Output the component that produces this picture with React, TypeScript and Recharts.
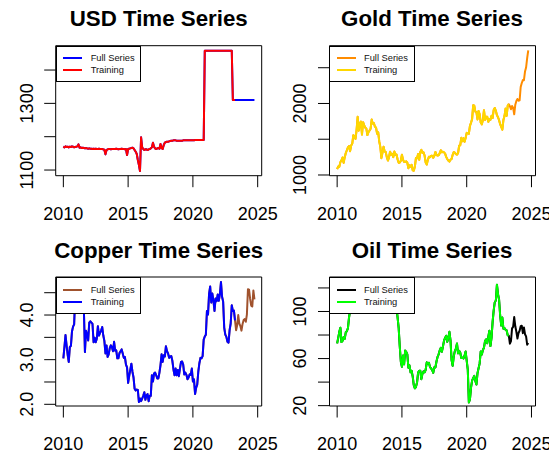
import React from 'react';
import { LineChart, Line, XAxis, YAxis, ReferenceArea } from 'recharts';

const FONT = '"Liberation Sans", Arial, Helvetica, sans-serif';

// month-end observations, Jan 2010 .. Oct 2024
const START_YEAR = 2010;
// last month of the training window (Apr 2023)
const TRAIN_END = 2023.25;

const xTicks = [2010, 2015, 2020, 2025];

const usdValues = [
  1170, 1168, 1171, 1169, 1170, 1168, 1170, 1169, 1171, 1170, 1168, 1169, // 2010
  1170, 1171, 1177, 1167, 1168, 1166, 1167, 1166, 1165, 1166, 1165, 1164, // 2011
  1165, 1164, 1164, 1163, 1164, 1163, 1164, 1163, 1163, 1164, 1163, 1163, // 2012
  1163, 1162, 1161, 1147, 1160, 1162, 1163, 1163, 1162, 1163, 1163, 1163, // 2013
  1163, 1164, 1163, 1162, 1163, 1163, 1164, 1163, 1163, 1162, 1163, 1145, // 2014
  1163, 1164, 1165, 1166, 1167, 1165, 1160, 1155, 1148, 1130, 1115, 1097, // 2015
  1198, 1168, 1163, 1160, 1162, 1162, 1160, 1162, 1163, 1165, 1168, 1182, // 2016
  1170, 1165, 1163, 1165, 1166, 1164, 1178, 1166, 1163, 1175, 1182, 1184, // 2017
  1185, 1185, 1186, 1187, 1188, 1188, 1189, 1189, 1189, 1188, 1188, 1188, // 2018
  1188, 1188, 1188, 1189, 1189, 1189, 1189, 1189, 1189, 1189, 1189, 1189, // 2019
  1189, 1189, 1190, 1190, 1190, 1190, 1190, 1190, 1190, 1190, 1190, 1458, // 2020
  1458, 1458, 1458, 1458, 1458, 1458, 1458, 1458, 1458, 1458, 1458, 1458, // 2021
  1458, 1458, 1458, 1458, 1458, 1458, 1458, 1458, 1458, 1458, 1458, 1458, // 2022
  1458, 1310, 1310, 1310, 1310, 1310, 1310, 1310, 1310, 1310, 1310, 1310, // 2023
  1310, 1310, 1310, 1310, 1310, 1310, 1310, 1310, 1310, 1310, // 2024
];

const goldValues = [
  1081, 1119, 1115, 1180, 1207, 1244, 1169, 1246, 1307, 1346, 1386, 1405,
  1333, 1411, 1439, 1556, 1536, 1505, 1628, 1813, 1620, 1722, 1746, 1565,
  1738, 1697, 1662, 1651, 1558, 1598, 1622, 1648, 1776, 1719, 1726, 1675,
  1664, 1578, 1598, 1469, 1393, 1235, 1313, 1396, 1328, 1323, 1250, 1202,
  1244, 1326, 1284, 1296, 1250, 1327, 1282, 1287, 1216, 1171, 1175, 1199,
  1284, 1213, 1183, 1182, 1190, 1172, 1095, 1135, 1115, 1142, 1065, 1060,
  1118, 1238, 1233, 1293, 1213, 1322, 1351, 1309, 1316, 1272, 1173, 1146,
  1212, 1254, 1249, 1268, 1268, 1242, 1269, 1322, 1280, 1271, 1275, 1303,
  1345, 1318, 1325, 1316, 1299, 1253, 1224, 1201, 1187, 1215, 1223, 1282,
  1321, 1313, 1292, 1284, 1305, 1409, 1414, 1520, 1472, 1513, 1464, 1517,
  1589, 1586, 1577, 1686, 1730, 1781, 1975, 1968, 1886, 1879, 1777, 1895,
  1848, 1734, 1708, 1769, 1906, 1771, 1814, 1814, 1743, 1784, 1774, 1829,
  1796, 1909, 1937, 1897, 1837, 1807, 1766, 1711, 1672, 1633, 1768, 1824,
  1928, 1827, 1969, 1990, 1962, 1919, 1965, 1940, 1849, 1983, 2036, 2063,
  2039, 2044, 2230, 2286, 2327, 2326, 2447, 2503, 2635, 2744,
];

const copperValues = [
  3.03, 3.28, 3.55, 3.32, 3.11, 2.95, 3.28, 3.31, 3.63, 3.74, 3.79, 4.44,
  4.49, 4.48, 4.27, 4.14, 4.12, 4.28, 4.47, 4.14, 3.17, 3.65, 3.56, 3.43,
  3.83, 3.86, 3.83, 3.80, 3.39, 3.49, 3.39, 3.47, 3.75, 3.54, 3.60, 3.65,
  3.73, 3.54, 3.42, 3.14, 3.32, 3.06, 3.12, 3.26, 3.32, 3.28, 3.19, 3.40,
  3.20, 3.21, 3.03, 3.03, 3.15, 3.19, 3.23, 3.14, 3.04, 3.06, 2.89, 2.83,
  2.48, 2.64, 2.77, 2.91, 2.73, 2.60, 2.35, 2.31, 2.33, 2.32, 2.05, 2.13,
  2.07, 2.13, 2.19, 2.27, 2.10, 2.20, 2.23, 2.07, 2.19, 2.19, 2.65, 2.51,
  2.69, 2.71, 2.65, 2.58, 2.58, 2.71, 2.88, 3.12, 2.95, 3.10, 3.07, 3.30,
  3.19, 3.14, 3.04, 3.07, 3.08, 2.97, 2.78, 2.65, 2.80, 2.65, 2.77, 2.63,
  2.80, 2.95, 2.96, 2.89, 2.67, 2.71, 2.66, 2.56, 2.60, 2.67, 2.66, 2.80,
  2.51, 2.56, 2.23, 2.37, 2.44, 2.73, 2.92, 3.04, 3.03, 3.08, 3.45, 3.52,
  3.56, 4.09, 4.01, 4.48, 4.64, 4.28, 4.48, 4.33, 4.09, 4.37, 4.31, 4.46,
  4.32, 4.47, 4.74, 4.41, 4.30, 3.72, 3.56, 3.51, 3.40, 3.38, 3.66, 3.81,
  4.22, 4.09, 4.10, 3.88, 3.66, 3.77, 4.00, 3.81, 3.75, 3.65, 3.80, 3.89,
  3.91, 3.85, 4.01, 4.58, 4.57, 4.36, 4.21, 4.19, 4.55, 4.35,
];

const oilValues = [
  72.9, 77.6, 82.7, 86.2, 74.0, 75.0, 78.4, 76.7, 82.3, 83.2, 85.9, 94.8,
  101.0, 111.8, 117.4, 125.9, 114.8, 112.5, 116.7, 114.9, 102.8, 109.6, 110.5, 107.4,
  111.0, 122.7, 122.9, 119.5, 101.9, 99.0, 104.9, 114.6, 112.4, 108.7, 111.2, 111.1,
  115.6, 111.4, 110.0, 102.2, 100.4, 102.2, 107.7, 114.0, 108.4, 108.8, 110.9, 110.8,
  106.4, 109.1, 107.8, 108.1, 109.4, 112.4, 106.0, 102.8, 94.7, 85.9, 70.2, 57.3,
  53.0, 62.6, 55.1, 66.8, 65.6, 63.6, 52.2, 54.2, 48.4, 49.6, 44.6, 37.3,
  34.7, 36.0, 39.6, 48.1, 49.7, 49.7, 42.5, 47.0, 49.1, 48.3, 50.5, 56.8,
  55.7, 56.5, 52.8, 51.7, 50.3, 47.9, 52.7, 52.4, 57.5, 61.4, 63.6, 66.9,
  69.1, 65.8, 70.3, 75.2, 77.6, 79.4, 74.3, 77.4, 82.7, 75.5, 58.7, 53.8,
  61.9, 66.3, 68.4, 72.8, 64.5, 66.6, 65.2, 60.4, 60.8, 60.2, 62.4, 66.0,
  58.2, 50.5, 22.7, 25.3, 35.3, 41.2, 43.3, 45.3, 40.9, 37.9, 47.6, 51.8,
  55.9, 66.1, 63.5, 67.3, 69.3, 75.1, 76.3, 73.0, 78.5, 83.7, 70.6, 77.8,
  91.2, 101.0, 107.9, 109.3, 122.8, 114.8, 110.0, 96.5, 88.0, 94.8, 85.4, 85.9,
  84.5, 83.9, 79.8, 79.5, 72.7, 74.9, 85.6, 86.9, 95.3, 87.4, 82.8, 77.0,
  81.7, 83.6, 87.5, 87.9, 81.6, 86.4, 80.7, 78.8, 71.8, 73.2,
];

const usdTicks = [1100, 1200, 1300, 1400];
const usdTickLabels = [1100, 1300];
const goldTicks = [1000, 1500, 2000, 2500];
const goldTickLabels = [1000, 2000];
const copperTicks = [2.0, 2.5, 3.0, 3.5, 4.0, 4.5];
const copperTickLabels = [2.0, 3.0, 4.0];
const oilTicks = [20, 40, 60, 80, 100, 120];
const oilTickLabels = [20, 60, 100];

const buildRows = (values: number[]) =>
  values.map((v, i) => {
    const t = START_YEAR + i / 12;
    return { t, full: v, train: t <= TRAIN_END + 1e-6 ? v : null };
  });

const PANEL_W = 274.5;
const PANEL_H = 227;
const CHART_W = 300; // wider than the panel so the last x label runs over like the original
const Y_AXIS_W = 40;
const X_AXIS_H = 30;
const X_DOMAIN: [number, number] = [2009.41, 2025.31];

type PanelCfg = {
  title: string;
  values: number[];
  fullColor: string;
  trainColor: string;
  yDomain: [number, number];
  yTicks: number[];
  yTickLabels: number[];
  decimals: number;
  col: number;
  row: number;
};

const panels: PanelCfg[] = [
  {
    title: 'USD Time Series', values: usdValues, fullColor: '#0000FF', trainColor: '#FF0000',
    yDomain: [1083, 1473], yTicks: usdTicks, yTickLabels: usdTickLabels, decimals: 0, col: 0, row: 0,
  },
  {
    title: 'Gold Time Series', values: goldValues, fullColor: '#FF8C00', trainColor: '#FFD700',
    yDomain: [990, 2808], yTicks: goldTicks, yTickLabels: goldTickLabels, decimals: 0, col: 1, row: 0,
  },
  {
    title: 'Copper Time Series', values: copperValues, fullColor: '#A0522D', trainColor: '#0000FF',
    yDomain: [1.962, 4.852], yTicks: copperTicks, yTickLabels: copperTickLabels, decimals: 1, col: 0, row: 1,
  },
  {
    title: 'Oil Time Series', values: oilValues, fullColor: '#000000', trainColor: '#00FF00',
    yDomain: [19.7, 129.3], yTicks: oilTicks, yTickLabels: oilTickLabels, decimals: 0, col: 1, row: 1,
  },
];

const Panel = ({ cfg }: { cfg: PanelCfg }) => {
  const boxL = cfg.col === 0 ? 55.7 : 54.5;
  const boxR = cfg.col === 0 ? 261.7 : 260.5;
  const boxT = cfg.row === 0 ? 45.7 : 50;
  const boxB = cfg.row === 0 ? 175.7 : 179;
  const titleY = cfg.row === 0 ? 26.5 : 31.5;
  const data = buildRows(cfg.values);

  const renderXTick = (p: any) => (
    <g>
      <line x1={p.x} x2={p.x} y1={boxB} y2={boxB + 11.5} stroke="#000" strokeWidth={1} />
      <text x={p.x} y={boxB + 44} textAnchor="middle" fontSize={18} fontFamily={FONT} fill="#000">
        {p.payload.value}
      </text>
    </g>
  );

  const renderYTick = (p: any) => {
    const v = p.payload.value;
    const show = cfg.yTickLabels.some((l) => Math.abs(l - v) < 1e-9);
    const tx = boxL - 23;
    return (
      <g>
        <line x1={boxL - 11.5} x2={boxL} y1={p.y} y2={p.y} stroke="#000" strokeWidth={1} />
        {show && (
          <text
            x={tx}
            y={p.y}
            transform={`rotate(-90 ${tx} ${p.y})`}
            textAnchor="middle"
            fontSize={18}
            fontFamily={FONT}
            fill="#000"
          >
            {v.toFixed(cfg.decimals)}
          </text>
        )}
      </g>
    );
  };

  return (
    <div
      style={{
        position: 'absolute',
        left: cfg.col * PANEL_W,
        top: cfg.row * PANEL_H,
        width: CHART_W,
        height: PANEL_H,
      }}
    >
      <div
        style={{
          position: 'absolute',
          left: boxL - 20,
          width: boxR - boxL + 40,
          top: titleY - 21,
          height: 26,
          lineHeight: '26px',
          textAlign: 'center',
          fontFamily: FONT,
          fontWeight: 'bold',
          fontSize: 22.3,
          color: '#000',
          whiteSpace: 'nowrap',
        }}
      >
        {cfg.title}
      </div>
      <LineChart
        width={CHART_W}
        height={PANEL_H}
        data={data}
        margin={{
          top: boxT,
          left: boxL - Y_AXIS_W,
          right: CHART_W - boxR,
          bottom: PANEL_H - boxB - X_AXIS_H,
        }}
      >
        <XAxis
          dataKey="t"
          type="number"
          domain={X_DOMAIN}
          allowDataOverflow
          ticks={xTicks}
          interval={0}
          axisLine={false}
          tickLine={false}
          height={X_AXIS_H}
          tick={renderXTick}
        />
        <YAxis
          type="number"
          domain={cfg.yDomain}
          allowDataOverflow
          ticks={cfg.yTicks}
          interval={0}
          axisLine={false}
          tickLine={false}
          width={Y_AXIS_W}
          tick={renderYTick}
        />
        <Line
          type="linear"
          dataKey="full"
          stroke={cfg.fullColor}
          strokeWidth={2}
          strokeLinejoin="round"
          dot={false}
          activeDot={false}
          isAnimationActive={false}
        />
        <Line
          type="linear"
          dataKey="train"
          stroke={cfg.trainColor}
          strokeWidth={2}
          strokeLinejoin="round"
          dot={false}
          activeDot={false}
          connectNulls={false}
          isAnimationActive={false}
        />
        <ReferenceArea
          x1={X_DOMAIN[0]}
          x2={X_DOMAIN[1]}
          y1={cfg.yDomain[0]}
          y2={cfg.yDomain[1]}
          fill="none"
          fillOpacity={0}
          stroke="#000"
          strokeWidth={1}
          ifOverflow="visible"
        />
      </LineChart>
      {/* legend box drawn over the lines, as in the original */}
      <div
        style={{
          position: 'absolute',
          left: boxL,
          top: boxT,
          width: 85.5,
          height: 36.5,
          boxSizing: 'border-box',
          border: '1px solid #000',
          background: '#fff',
          fontFamily: FONT,
          fontSize: 9.3,
          color: '#111',
        }}
      >
        {[
          { label: 'Full Series', color: cfg.fullColor, y: 11.5 },
          { label: 'Training', color: cfg.trainColor, y: 23.5 },
        ].map((it) => (
          <React.Fragment key={it.label}>
            <div
              style={{
                position: 'absolute',
                left: 6.5,
                top: it.y - 1,
                width: 19,
                height: 2,
                background: it.color,
              }}
            />
            <div
              style={{
                position: 'absolute',
                left: 34,
                top: it.y - 6,
                height: 12,
                lineHeight: '12px',
                whiteSpace: 'nowrap',
              }}
            >
              {it.label}
            </div>
          </React.Fragment>
        ))}
      </div>
    </div>
  );
};

export default function App() {
  return (
    <div
      style={{
        position: 'fixed',
        left: 0,
        top: 0,
        width: 549,
        height: 454,
        background: '#fff',
        overflow: 'hidden',
      }}
    >
      {panels.map((p) => (
        <Panel key={p.title} cfg={p} />
      ))}
    </div>
  );
}
